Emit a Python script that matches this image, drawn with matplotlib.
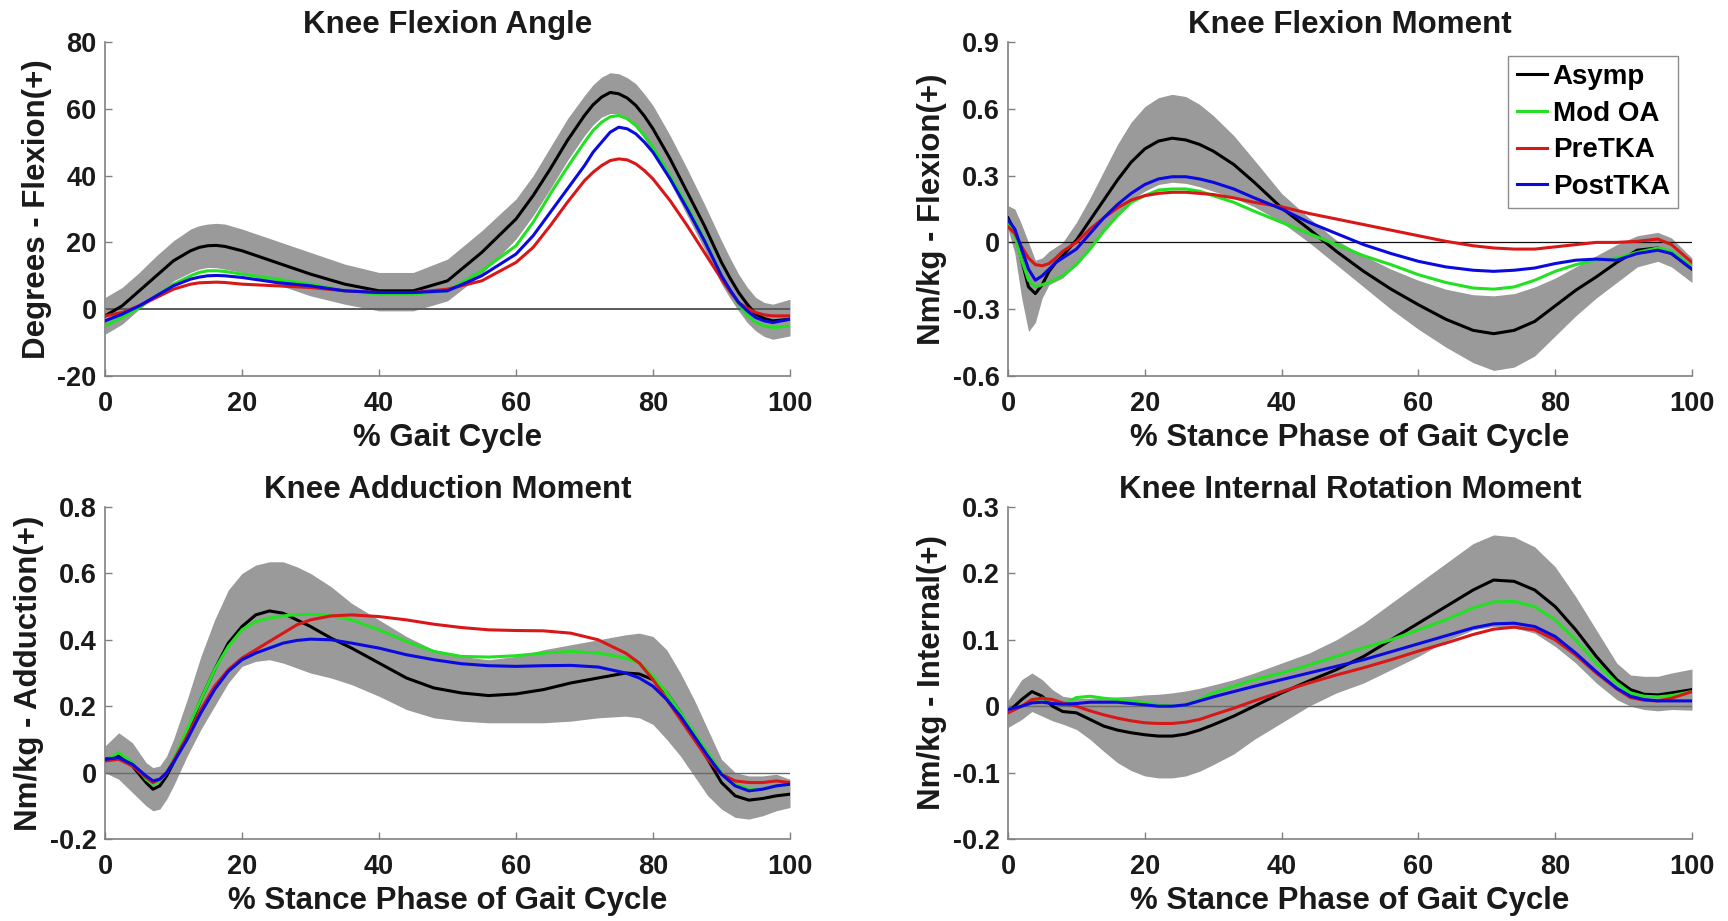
import matplotlib
matplotlib.use("Agg")
import matplotlib.pyplot as plt

plt.rcParams['font.family'] = ['Liberation Sans', 'DejaVu Sans']
plt.rcParams['font.weight'] = 'bold'

# ---------------- data ----------------
group_names = ["Asymp", "Mod OA", "PreTKA", "PostTKA"]

# Panel 1: Knee Flexion Angle
x_angle = [0, 2.5, 5, 7.5, 10, 12.5, 13.75, 15, 16.25, 17.5, 20, 25, 30, 35, 40, 45, 50, 55, 60, 62.5,
           65, 67.5, 70, 71.25, 72.5, 73.75, 75, 76.25, 77.5, 78.75, 80, 82.5, 85, 87.5, 90, 91.25,
           92.5, 93.75, 95, 96.25, 97.5, 100]
angle_asymp = [-2, 1, 5.5, 10, 14.5, 17.5, 18.5, 19, 19.1, 18.8, 17.5, 14, 10.5, 7.5, 5.5, 5.5, 8.5, 17,
               27, 34, 42, 50.5, 58, 61.2, 63.5, 64.9, 64.5, 63.2, 61, 57.8, 54, 45, 35, 25, 14, 9.3,
               5, 1.5, -1.5, -2.8, -3.5, -3]
angle_upper = [3.5, 6.5, 11, 16, 20.5, 24, 25, 25.5, 25.7, 25.5, 24, 20.5, 17, 13.5, 11, 11, 15, 23.5,
               33, 40, 48.5, 57, 64, 67.2, 69.5, 70.8, 70.5, 69.3, 67.5, 64.4, 61, 52, 42, 31.5, 20.5,
               15.3, 10.5, 6.6, 3.5, 2, 1.5, 3]
angle_lower = [-7.5, -4.5, 0, 4, 8.5, 11, 12, 12.5, 12.4, 12, 11, 7.5, 4, 1.5, -0.5, -0.5, 2.5, 10.5,
               21, 28, 36, 44.5, 52, 55.2, 57.5, 58.6, 58.5, 57, 54.5, 51, 47, 38, 28, 18, 7.5, 3.3,
               -0.5, -4, -6.5, -8.2, -9, -8]
angle_modoa = [-5, -2.5, 0.5, 4, 7.5, 10, 11, 11.5, 11.5, 11.3, 10.5, 9, 7.5, 5.5, 4.5, 4.5, 5.5, 11.5,
               19, 26, 34.5, 42.5, 50, 53.5, 56, 57.6, 58, 57, 55, 52, 48.5, 40, 31, 21, 10, 5.5, 1.5,
               -1.8, -4, -5, -5.5, -5]
angle_pretka = [-2, -1, 1, 3.5, 6, 7.5, 7.9, 8, 8.1, 8, 7.5, 7, 6.5, 5.5, 5, 5, 6, 8.5, 14, 18.5, 25,
                32, 38.5, 41, 43, 44.5, 45, 44.7, 43.5, 41.5, 39, 32.5, 25, 17, 9, 5.3, 2, 0.3, -1,
                -1.7, -2, -2]
angle_posttka = [-3.5, -1.5, 1, 4, 7, 9, 9.6, 10, 10.1, 10, 9.5, 8, 7, 5.5, 5, 5, 5.5, 10, 16.5, 22,
                 29, 36, 43, 47, 50, 53, 54.5, 54, 52.5, 50, 47, 39, 30, 20.5, 10, 5.8, 2, -0.5, -2.5,
                 -3.5, -4, -3]

# Panel 2: Knee Flexion Moment
x_flexmom = [0, 1, 2, 3, 4, 5, 6, 7, 8, 10, 12, 14, 16, 18, 20, 22, 24, 26, 28, 30, 33, 36, 40, 44,
             48, 52, 56, 60, 64, 68, 71, 74, 77, 80, 83, 86, 89, 92, 95, 97, 100]
flexmom_asymp = [0.11, 0.05, -0.08, -0.2, -0.23, -0.19, -0.13, -0.09, -0.06, 0.01, 0.10, 0.19, 0.28, 0.36,
                 0.42, 0.455, 0.468, 0.46, 0.44, 0.41, 0.35, 0.27, 0.155, 0.06, -0.04, -0.13, -0.21, -0.28,
                 -0.345, -0.395, -0.41, -0.395, -0.355, -0.285, -0.215, -0.155, -0.09, -0.035, -0.025,
                 -0.05, -0.12]
flexmom_upper = [0.165, 0.15, 0.08, 0.0, -0.08, -0.07, -0.04, -0.02, 0.0, 0.09, 0.2, 0.32, 0.44, 0.54,
                 0.61, 0.65, 0.665, 0.655, 0.62, 0.57, 0.48, 0.37, 0.22, 0.11, 0.01, -0.06, -0.12, -0.17,
                 -0.21, -0.235, -0.24, -0.23, -0.2, -0.16, -0.11, -0.06, -0.01, 0.03, 0.045, 0.02, -0.07]
flexmom_lower = [0.06, -0.05, -0.25, -0.40, -0.36, -0.25, -0.19, -0.175, -0.16, -0.1, -0.02, 0.06, 0.13,
                 0.19, 0.23, 0.26, 0.27, 0.265, 0.25, 0.23, 0.2, 0.16, 0.09, 0.0, -0.1, -0.2, -0.3, -0.39,
                 -0.47, -0.54, -0.575, -0.56, -0.51, -0.42, -0.33, -0.25, -0.18, -0.11, -0.085, -0.11, -0.18]
flexmom_modoa = [0.09, 0.03, -0.08, -0.17, -0.2, -0.19, -0.18, -0.165, -0.15, -0.1, -0.03, 0.05, 0.12,
                 0.18, 0.21, 0.235, 0.24, 0.24, 0.23, 0.21, 0.18, 0.14, 0.09, 0.04, -0.01, -0.06, -0.1,
                 -0.145, -0.18, -0.205, -0.21, -0.2, -0.17, -0.13, -0.1, -0.08, -0.07, -0.045, -0.025,
                 -0.04, -0.11]
flexmom_pretka = [0.07, 0.04, -0.02, -0.07, -0.1, -0.105, -0.095, -0.07, -0.04, 0.0, 0.06, 0.11, 0.155,
                  0.19, 0.21, 0.22, 0.225, 0.225, 0.22, 0.215, 0.2, 0.18, 0.16, 0.13, 0.105, 0.08, 0.055,
                  0.03, 0.005, -0.015, -0.025, -0.03, -0.03, -0.02, -0.01, 0.0, 0.0, 0.005, 0.015, -0.01,
                  -0.09]
flexmom_posttka = [0.1, 0.06, -0.03, -0.12, -0.17, -0.15, -0.12, -0.09, -0.07, -0.03, 0.04, 0.11, 0.17,
                   0.22, 0.26, 0.285, 0.295, 0.295, 0.285, 0.27, 0.24, 0.2, 0.15, 0.09, 0.04, -0.01, -0.05,
                   -0.085, -0.11, -0.125, -0.13, -0.125, -0.115, -0.095, -0.08, -0.075, -0.08, -0.05,
                   -0.035, -0.05, -0.12]

# Panel 3: Knee Adduction Moment
x_addmom = [0, 2, 4, 6, 7, 8, 9, 10, 12, 14, 16, 18, 20, 22, 24, 26, 28, 30, 33, 36, 40, 44, 48, 52, 56,
            60, 64, 68, 72, 76, 78, 80, 82, 84, 86, 88, 90, 92, 94, 96, 98, 100]
addmom_asymp = [0.04, 0.05, 0.02, -0.03, -0.05, -0.04, -0.01, 0.03, 0.12, 0.22, 0.31, 0.39, 0.44, 0.475,
                0.487, 0.48, 0.46, 0.44, 0.405, 0.375, 0.33, 0.285, 0.255, 0.24, 0.232, 0.237, 0.25, 0.27,
                0.285, 0.3, 0.297, 0.28, 0.24, 0.18, 0.11, 0.04, -0.03, -0.07, -0.083, -0.078, -0.07,
                -0.065]
addmom_upper = [0.08, 0.12, 0.09, 0.03, 0.015, 0.02, 0.05, 0.1, 0.22, 0.35, 0.46, 0.55, 0.6, 0.625, 0.635,
                0.635, 0.62, 0.6, 0.56, 0.51, 0.46, 0.41, 0.37, 0.35, 0.34, 0.35, 0.37, 0.385, 0.4, 0.415,
                0.42, 0.41, 0.37, 0.3, 0.22, 0.13, 0.04, 0.0, -0.01, -0.01, -0.005, -0.02]
addmom_lower = [0.0, -0.02, -0.06, -0.1, -0.115, -0.11, -0.08, -0.04, 0.05, 0.13, 0.2, 0.27, 0.32, 0.335,
                0.34, 0.33, 0.315, 0.3, 0.285, 0.265, 0.23, 0.19, 0.165, 0.155, 0.15, 0.15, 0.15, 0.155,
                0.165, 0.17, 0.165, 0.145, 0.1, 0.05, -0.01, -0.07, -0.11, -0.135, -0.14, -0.13, -0.115,
                -0.105]
addmom_modoa = [0.035, 0.06, 0.03, -0.02, -0.035, -0.025, 0.0, 0.04, 0.13, 0.22, 0.31, 0.38, 0.43, 0.455,
                0.465, 0.472, 0.476, 0.477, 0.473, 0.46, 0.43, 0.395, 0.365, 0.35, 0.348, 0.352, 0.36,
                0.365, 0.36, 0.345, 0.33, 0.29, 0.24, 0.18, 0.12, 0.06, 0.0, -0.035, -0.05, -0.05, -0.04,
                -0.035]
addmom_pretka = [0.035, 0.04, 0.02, -0.015, -0.03, -0.02, 0.0, 0.035, 0.11, 0.19, 0.26, 0.31, 0.345, 0.37,
                 0.395, 0.42, 0.445, 0.46, 0.472, 0.475, 0.47, 0.46, 0.447, 0.437, 0.43, 0.428, 0.427,
                 0.42, 0.4, 0.36, 0.33, 0.28, 0.22, 0.16, 0.1, 0.04, -0.005, -0.025, -0.03, -0.03, -0.025,
                 -0.03]
addmom_posttka = [0.04, 0.045, 0.025, -0.01, -0.025, -0.02, 0.0, 0.03, 0.1, 0.18, 0.25, 0.305, 0.34, 0.36,
                  0.375, 0.39, 0.398, 0.402, 0.4, 0.39, 0.375, 0.355, 0.34, 0.328, 0.322, 0.32, 0.322,
                  0.323, 0.318, 0.3, 0.285, 0.26, 0.22, 0.17, 0.11, 0.05, -0.005, -0.04, -0.055, -0.05,
                  -0.04, -0.035]

# Panel 4: Knee Internal Rotation Moment
x_rotmom = [0, 2, 3.5, 5, 6.5, 8, 10, 12, 14, 16, 18, 20, 22, 24, 26, 28, 30, 33, 36, 40, 44, 48, 52, 56,
            60, 64, 68, 71, 74, 77, 80, 83, 86, 89, 91, 93, 95, 97, 100]
rotmom_asymp = [-0.009, 0.01, 0.022, 0.015, 0.0, -0.008, -0.01, -0.02, -0.03, -0.036, -0.04, -0.043,
                -0.045, -0.045, -0.042, -0.036, -0.028, -0.015, 0.0, 0.02, 0.038, 0.055, 0.075, 0.1, 0.125,
                0.15, 0.175, 0.19, 0.188, 0.175, 0.15, 0.115, 0.075, 0.04, 0.025, 0.018, 0.017, 0.02, 0.025]
rotmom_upper = [0.0085, 0.04, 0.05, 0.04, 0.025, 0.015, 0.012, 0.012, 0.013, 0.014, 0.015, 0.017, 0.018,
                0.02, 0.023, 0.027, 0.032, 0.04, 0.05, 0.065, 0.08, 0.1, 0.125, 0.155, 0.185, 0.215, 0.245,
                0.258, 0.255, 0.24, 0.21, 0.165, 0.115, 0.065, 0.047, 0.045, 0.045, 0.05, 0.056]
rotmom_lower = [-0.032, -0.02, -0.008, -0.015, -0.022, -0.027, -0.035, -0.05, -0.068, -0.085, -0.097,
                -0.105, -0.108, -0.108, -0.105, -0.098, -0.088, -0.072, -0.05, -0.025, 0.0, 0.02, 0.035,
                0.055, 0.075, 0.098, 0.115, 0.12, 0.118, 0.11, 0.09, 0.065, 0.035, 0.01, 0.0, -0.005,
                -0.007, -0.005, -0.006]
rotmom_modoa = [-0.008, 0.0, 0.008, 0.012, 0.008, 0.003, 0.013, 0.015, 0.012, 0.01, 0.008, 0.005, 0.002,
                0.0, 0.002, 0.01, 0.02, 0.03, 0.04, 0.05, 0.062, 0.075, 0.088, 0.1, 0.115, 0.13, 0.148,
                0.157, 0.158, 0.15, 0.13, 0.1, 0.065, 0.035, 0.02, 0.015, 0.014, 0.016, 0.022]
rotmom_pretka = [-0.01, 0.0, 0.01, 0.012, 0.01, 0.005, 0.0, -0.007, -0.013, -0.018, -0.022, -0.025,
                 -0.026, -0.026, -0.024, -0.02, -0.013, -0.003, 0.008, 0.022, 0.035, 0.047, 0.058, 0.07,
                 0.083, 0.095, 0.108, 0.116, 0.119, 0.115, 0.1, 0.077, 0.05, 0.026, 0.013, 0.009, 0.008,
                 0.012, 0.022]
rotmom_posttka = [-0.005, 0.0, 0.005, 0.006, 0.004, 0.003, 0.004, 0.006, 0.006, 0.006, 0.004, 0.002, 0.0,
                  0.0, 0.002, 0.008, 0.014, 0.022, 0.03, 0.04, 0.05, 0.06, 0.07, 0.082, 0.094, 0.106,
                  0.118, 0.124, 0.125, 0.12, 0.105, 0.08, 0.052, 0.027, 0.015, 0.01, 0.008, 0.008, 0.008]

x_ticks = [0, 20, 40, 60, 80, 100]
titles = ["Knee Flexion Angle", "Knee Flexion Moment", "Knee Adduction Moment",
          "Knee Internal Rotation Moment"]
xlabels = ["% Gait Cycle", "% Stance Phase of Gait Cycle", "% Stance Phase of Gait Cycle",
           "% Stance Phase of Gait Cycle"]
ylabels = ["Degrees - Flexion(+)", "Nm/kg - Flexion(+)", "Nm/kg - Adduction(+)", "Nm/kg - Internal(+)"]
y_ticks = [[-20, 0, 20, 40, 60, 80],
           [-0.6, -0.3, 0, 0.3, 0.6, 0.9],
           [-0.2, 0, 0.2, 0.4, 0.6, 0.8],
           [-0.2, -0.1, 0, 0.1, 0.2, 0.3]]
y_ticklabels = [["-20", "0", "20", "40", "60", "80"],
                ["-0.6", "-0.3", "0", "0.3", "0.6", "0.9"],
                ["-0.2", "0", "0.2", "0.4", "0.6", "0.8"],
                ["-0.2", "-0.1", "0", "0.1", "0.2", "0.3"]]

panels = [
    (x_angle, angle_asymp, angle_upper, angle_lower, angle_modoa, angle_pretka, angle_posttka),
    (x_flexmom, flexmom_asymp, flexmom_upper, flexmom_lower, flexmom_modoa, flexmom_pretka, flexmom_posttka),
    (x_addmom, addmom_asymp, addmom_upper, addmom_lower, addmom_modoa, addmom_pretka, addmom_posttka),
    (x_rotmom, rotmom_asymp, rotmom_upper, rotmom_lower, rotmom_modoa, rotmom_pretka, rotmom_posttka),
]

# ---------------- style ----------------
W, H = 1728, 921
fig = plt.figure(figsize=(W / 100, H / 100), dpi=100)

def frac_rect(l, r, t, b):
    return [l / W, 1 - b / H, (r - l) / W, (b - t) / H]

rects = [frac_rect(105, 790, 42, 376), frac_rect(1008, 1692, 42, 376),
         frac_rect(105, 790, 507, 839), frac_rect(1008, 1692, 507, 839)]
zero_styles = [dict(color='#5a5a5a', lw=1.4), dict(color='#111111', lw=0.9),
               dict(color='#6a6a6a', lw=1.0), dict(color='#6a6a6a', lw=1.0)]
line_colors = ['#000000', '#22e022', '#d81818', '#0a0ae0']
band_color = '#9a9a9a'
axis_color = '#808080'
text_color = '#1a1a1a'

for i, (rect, data) in enumerate(zip(rects, panels)):
    ax = fig.add_axes(rect)
    x, asymp, upper, lower, modoa, pretka, posttka = data
    ax.fill_between(x, lower, upper, color=band_color, lw=0, zorder=1)
    ax.axhline(0, zorder=2, **zero_styles[i])
    handles = []
    for series, col, name in zip([asymp, modoa, pretka, posttka], line_colors, group_names):
        h, = ax.plot(x, series, color=col, lw=2.2, label=name, zorder=3,
                     solid_joinstyle='round')
        handles.append(h)
    ax.set_xlim(0, 100)
    ax.set_ylim(y_ticks[i][0], y_ticks[i][-1])
    ax.set_xticks(x_ticks)
    ax.set_xticklabels([str(t) for t in x_ticks])
    ax.set_yticks(y_ticks[i])
    ax.set_yticklabels(y_ticklabels[i])
    for s in ['top', 'right']:
        ax.spines[s].set_visible(False)
    for s in ['left', 'bottom']:
        ax.spines[s].set_color(axis_color)
        ax.spines[s].set_linewidth(1.2)
    ax.tick_params(axis='both', direction='in', length=5, width=1.0, color=axis_color,
                   labelsize=19.5, labelcolor=text_color)
    ax.tick_params(axis='x', pad=11)
    ax.tick_params(axis='y', pad=6)
    for lab in ax.get_xticklabels() + ax.get_yticklabels():
        lab.set_fontweight('bold')
    ax.set_title(titles[i], fontsize=22.5, fontweight='bold', color=text_color, pad=6.5)
    ax.set_xlabel(xlabels[i], fontsize=22.5, fontweight='bold', color=text_color, labelpad=4)
    ax.set_ylabel(ylabels[i], fontsize=22.5, fontweight='bold', color=text_color, labelpad=4)
    if i == 1:
        leg = ax.legend(handles=handles, loc='upper right', fontsize=20, frameon=True,
                        fancybox=False, edgecolor='#8c8c8c', framealpha=1,
                        handlelength=1.1, handletextpad=0.2, labelspacing=0.38,
                        borderpad=0.3, borderaxespad=0.5)
        leg.get_frame().set_linewidth(1.0)
        for t in leg.get_texts():
            t.set_fontweight('bold')
            t.set_color('#000000')

fig.savefig("out.png", dpi=100)
